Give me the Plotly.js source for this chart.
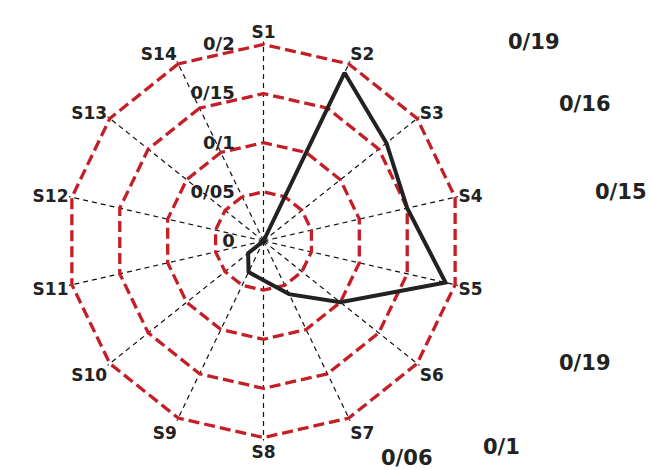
<!DOCTYPE html>
<html>
<head>
<meta charset="utf-8">
<script src="https://cdn.plot.ly/plotly-3.0.1.min.js"></script>
<style>html,body{margin:0;padding:0;background:#fff;}#chart{width:650px;height:470px;}</style>
</head>
<body>
<div id="chart"></div>
<script>
const categories = ["S1","S2","S3","S4","S5","S6","S7","S8","S9","S10","S11","S12","S13","S14"];
const values = [0, 0.19, 0.16, 0.15, 0.19, 0.1, 0.06, 0.04, 0.035, 0.02, 0, 0, 0, 0];
const radialTicks = [0, 0.05, 0.1, 0.15, 0.2];
const radialTickText = ["0", "0/05", "0/1", "0/15", "0/2"];
const noteTexts = ["0/19", "0/16", "0/15", "0/19", "0/1", "0/06"];
const noteX = [1.178, 1.306, 1.396, 1.306, 1.096, 0.859];
const noteY = [0.998, 0.843, 0.623, 0.195, -0.015, -0.043];

const theta = categories.concat([categories[0]]);
const r = values.concat([values[0]]);

const FONT = "'DejaVu Sans', 'Noto Sans', sans-serif";

const data = [{
  type: "scatterpolar",
  r: r,
  theta: theta,
  mode: "lines",
  line: {color: "#222222", width: 4},
  hoverinfo: "skip",
  showlegend: false
}];

const annotations = noteTexts.map((t, i) => ({
  text: t, xref: "paper", yref: "paper", x: noteX[i], y: noteY[i],
  showarrow: false, xanchor: "center", yanchor: "middle",
  font: {family: FONT, size: 21, color: "#222", weight: "bold"}
}));

const layout = {
  width: 650, height: 470,
  margin: {l: 63.5, r: 186.5, t: 41, b: 29},
  paper_bgcolor: "#ffffff",
  plot_bgcolor: "#ffffff",
  showlegend: false,
  font: {family: FONT, color: "#222"},
  polar: {
    domain: {x: [0, 1], y: [0, 1]},
    bgcolor: "rgba(0,0,0,0)",
    gridshape: "linear",
    radialaxis: {
      range: [0, 0.203],
      tickvals: radialTicks,
      ticktext: radialTickText,
      angle: 90,
      tickangle: 90,
      side: "counterclockwise",
      showline: false,
      ticks: "outside",
      ticklen: 22,
      tickcolor: "rgba(0,0,0,0)",
      gridcolor: "#c41e26",
      gridwidth: 3.3,
      griddash: "11px,5px",
      tickfont: {family: FONT, size: 18, color: "#222", weight: "bold"}
    },
    angularaxis: {
      direction: "clockwise",
      rotation: 90,
      showline: false,
      ticks: "",
      gridcolor: "#111",
      gridwidth: 1.2,
      griddash: "5px,4px",
      tickfont: {family: FONT, size: 17, color: "#222", weight: "bold"}
    }
  },
  annotations: annotations
};

Plotly.newPlot("chart", data, layout, {staticPlot: true, displayModeBar: false});
</script>
</body>
</html>
